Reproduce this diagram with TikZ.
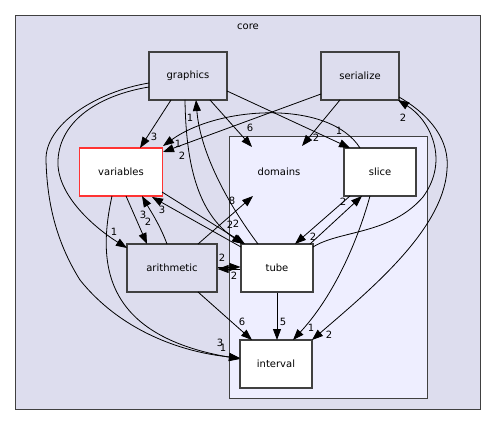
\documentclass[tikz,border=0pt]{standalone}
\usepackage{fontspec}
\setmainfont{DejaVu Sans}
\usetikzlibrary{arrows.meta,calc}
\definecolor{clusterbg}{HTML}{DDDDEE}
\definecolor{innerbg}{HTML}{EEEEFF}
\definecolor{bordergray}{HTML}{404040}
\definecolor{redborder}{HTML}{FF3333}
\begin{document}
\begin{tikzpicture}[x=1pt,y=-1pt,
  dirbox/.style={draw=bordergray, line width=1.1pt, minimum width=#1, minimum height=48pt, inner sep=0pt, font=\fontsize{10}{12}\selectfont},
  dep/.style={draw=black, line width=0.8pt, -{Triangle[length=11pt,width=8pt]}},
  lbl/.style={font=\fontsize{10}{12}\selectfont, inner sep=0pt},
  clus/.style={draw=bordergray, line width=1pt}
]
\useasboundingbox[fill=white] (0,0) rectangle (496,425);
% clusters
\draw[clus, fill=clusterbg] (15.5,15.5) rectangle (480.5,409);
\node[lbl] (corelbl) at (248,27) {core};
\draw[clus, fill=innerbg] (229,137) rectangle (427,398);
\node[minimum width=83pt, minimum height=49pt, inner sep=0pt, font=\fontsize{10}{12}\selectfont] (domains) at (279,172) {domains};
% nodes
\node[dirbox=78pt, fill=clusterbg] (graphics) at (188,76) {graphics};
\node[dirbox=78pt, fill=clusterbg] (serialize) at (360,76) {serialize};
\node[dirbox=83pt, fill=white, draw=redborder] (variables) at (121,172) {variables};
\node[dirbox=90pt, fill=clusterbg] (arithmetic) at (172,268) {arithmetic};
\node[dirbox=72pt, fill=white] (slice) at (380,172) {slice};
\node[dirbox=72pt, fill=white] (tube) at (277,268) {tube};
\node[dirbox=72pt, fill=white] (interval) at (276,364) {interval};
% edges
% graphics -> variables
\draw[dep] ($(graphics)+(-17,24)$) -- ($(variables)+(19,-24)$);
\node[lbl] (l1) at (154,137) {3};
% graphics -> domains
\draw[dep] ($(graphics)+(22,24)$) -- ($(domains)+(-27,-25)$);
\node[lbl] (l2) at (250,128) {6};
% graphics -> slice
\draw[dep] ($(graphics)+(39,15)$) -- ($(slice)+(-30,-24)$);
\node[lbl] (l3) at (339,131) {1};
% graphics -> tube
\draw[dep] ($(graphics)+(-3,24)$) .. controls (186,170) and (200,215) .. ($(tube)+(-34,-24)$);
\node[lbl] (l4) at (230,225) {2};
% tube -> graphics
\draw[dep] ($(tube)+(-19,-24)$) .. controls (225,200) and (200,150) .. ($(graphics)+(8,24)$);
\node[lbl] (l5) at (190,118) {1};
% graphics -> arithmetic
\draw[dep] ($(graphics)+(-39,11)$) .. controls (100,95) and (60,120) .. (58,160) .. controls (56,195) and (95,228) .. ($(arithmetic)+(-45,-20)$);
\node[lbl] (l6) at (114,232) {1};
% graphics -> interval
\draw[dep] ($(graphics)+(-39,7)$) .. controls (95,92) and (45,125) .. (46,160) .. controls (47,200) and (55,240) .. (80,280) .. controls (120,330) and (180,352) .. ($(interval)+(-36,-6)$);
\node[lbl] (l7) at (223,348) {1};
% variables -> interval
\draw[dep] ($(variables)+(-9,24)$) .. controls (98,260) and (100,335) .. ($(interval)+(-36,-5)$);
\node[lbl] (l8) at (220,343) {3};
% variables -> arithmetic
\draw[dep] ($(variables)+(5,24)$) -- ($(arithmetic)+(-25,-24)$);
\node[lbl] (l9) at (148,222) {2};
% arithmetic -> variables
\draw[dep] ($(arithmetic)+(-5,-24)$) .. controls (160,225) and (150,210) .. ($(variables)+(21,24)$);
\node[lbl] (l10) at (143,215) {3};
% variables -> tube
\draw[dep] ($(variables)+(41,20)$) -- ($(tube)+(-32,-24)$);
\node[lbl] (l11) at (236,224) {2};
% tube -> variables
\draw[dep] ($(tube)+(-36,-21)$) -- ($(variables)+(31,25)$);
\node[lbl] (l12) at (162,210) {3};
% arithmetic -> domains
\draw[dep] ($(arithmetic)+(26,-24)$) -- ($(domains)+(-26,24)$);
\node[lbl] (l13) at (232,201) {8};
% arithmetic <-> tube
\draw[dep] ($(arithmetic.east)+(0,-1)$) -- ($(tube.west)+(0,-1)$);
\draw[dep] ($(tube.west)+(0,1)$) -- ($(arithmetic.east)+(0,1)$);
\node[lbl] (l14) at (234,276) {2};
\node[lbl] (l15) at (222,258) {2};
% arithmetic -> interval
\draw[dep] ($(arithmetic)+(26,24)$) -- ($(interval)+(-24,-24)$);
\node[lbl] (l16) at (242,322) {6};
% tube -> interval
\draw[dep] (tube.south) -- ($(interval)+(1,-24)$);
\node[lbl] (l17) at (283,322) {5};
% slice -> interval
\draw[dep] ($(slice)+(-10,24)$) .. controls (355,250) and (330,300) .. ($(interval)+(17,-24)$);
\node[lbl] (l18) at (311,328) {1};
% serialize -> interval
\draw[dep] ($(serialize)+(39,21)$) .. controls (430,115) and (450,140) .. (447,170) .. controls (443,230) and (370,290) .. ($(interval)+(36,-24)$);
\node[lbl] (l19) at (329,335) {2};
% tube -> serialize
\draw[dep] ($(tube)+(36,-21)$) .. controls (340,230) and (390,235) .. (423,197) .. controls (450,160) and (430,120) .. ($(serialize)+(38,24)$);
\node[lbl] (l20) at (403,118) {2};
% serialize -> variables
\draw[dep] ($(serialize)+(-39,18)$) -- ($(variables)+(42,-20)$);
\node[lbl] (l21) at (182,156) {2};
% serialize -> domains
\draw[dep] ($(serialize)+(-20,24)$) -- ($(domains)+(23,-26)$);
\node[lbl] (l22) at (316,138) {2};
% slice -> variables
\draw[dep] ($(slice)+(-20,-24)$) .. controls (330,100) and (220,105) .. ($(variables)+(42,-26)$);
\node[lbl] (l23) at (178,144) {1};
% tube -> slice
\draw[dep] ($(tube)+(33,-24)$) -- ($(slice)+(-18,24)$);
\node[lbl] (l24) at (343,202) {2};
% slice -> tube
\draw[dep] ($(slice)+(-30,24)$) -- ($(tube)+(18,-24)$);
\node[lbl] (l25) at (313,237) {2};
\end{tikzpicture}
\end{document}
